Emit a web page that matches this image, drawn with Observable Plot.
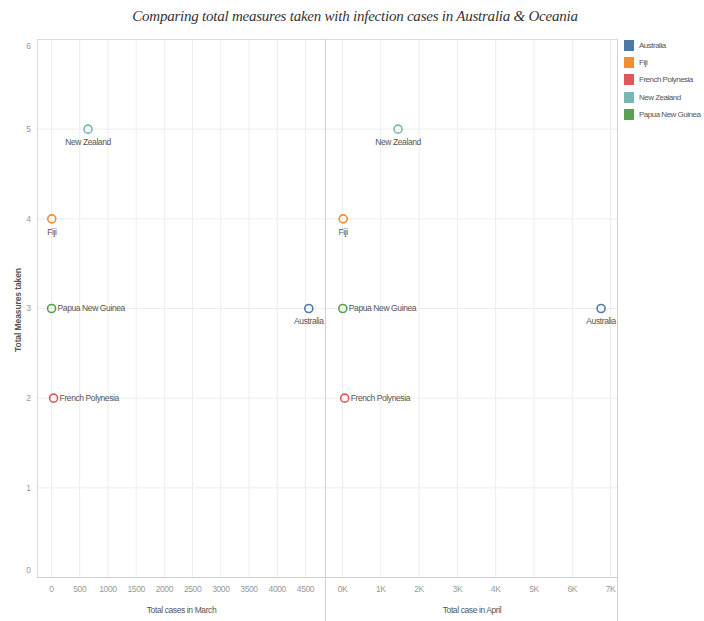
<!DOCTYPE html>
<html><head><meta charset="utf-8">
<script src="https://cdn.jsdelivr.net/npm/d3@7"></script>
<script src="https://cdn.jsdelivr.net/npm/@observablehq/plot@0.6"></script>
<style>
body{margin:0;background:#fff;}
#wrap{position:relative;width:704px;height:621px;overflow:hidden;font-family:"Liberation Sans",sans-serif;}
#title{position:absolute;top:8px;left:3px;width:704px;text-align:center;font-family:"Liberation Serif",serif;font-style:italic;font-size:15px;letter-spacing:-0.23px;color:#333;}
#left{position:absolute;left:0;top:29px;}
#right{position:absolute;left:326px;top:29px;}
#left svg text, #right svg text{letter-spacing:-0.4px;}
#ytitle{position:absolute;left:18px;top:310px;transform:translate(-50%,-50%) rotate(-90deg);white-space:nowrap;font-size:8.5px;font-weight:bold;color:#555;letter-spacing:-0.1px;}
#legend{position:absolute;left:624px;top:37px;font-size:8px;letter-spacing:-0.5px;color:#555;}
#legend .it{display:flex;align-items:center;height:17.2px;white-space:nowrap;}
#legend .sw{width:10px;height:11px;margin-right:5px;}
</style></head>
<body><div id="wrap">
<div id="title">Comparing total measures taken with infection cases in Australia &amp; Oceania</div>
<div id="left"></div><div id="right"></div><div id="legend"></div><div id="ytitle"></div>
</div>
<script>
const countries = ["Australia","Fiji","French Polynesia","New Zealand","Papua New Guinea"];
const colors = ["#4e79a7","#f28e2b","#e15759","#76b7b2","#59a14f"];
const measures = [3,4,2,5,3];
const casesMarch = [4559,5,37,647,1];
const casesApril = [6753,18,57,1450,8];
const marchTicks = [0,500,1000,1500,2000,2500,3000,3500,4000,4500];
const aprilTicks = [0,1000,2000,3000,4000,5000,6000,7000];
const measureTicks = [0,1,2,3,4,5,6];
const titleMarch = "Total cases in March";
const titleApril = "Total case in April";
const titleY = "Total Measures taken";

const rightLabeled = new Set(["French Polynesia","Papua New Guinea"]);
const rows = (cases) => countries.map((c,i)=>({country:c, cases:cases[i], measures:measures[i]}));
const font = "'Liberation Sans',sans-serif";
const txt = {fill:"#555", fontSize:8.5};
const tick = {fill:"#999", fontSize:8.5};

function panel(data, xDomain, ticks, fmt, xTitle, opts){
  const marks = [
    Plot.gridY(measureTicks, {stroke:"#ededed", strokeOpacity:1}),
    Plot.gridX(ticks, {stroke:"#ededed", strokeOpacity:1}),
    Plot.ruleY([6], {stroke:"#dadada"}),
    Plot.ruleY([0], {stroke:"#d0d0d0", x1:xDomain[0], x2:xDomain[1]}),
    Plot.ruleX([xDomain[1]], {stroke:"#d0d0d0", y1:-0.5, y2:6}),
    Plot.axisX(ticks, {tickSize:0, tickPadding:8, tickFormat:fmt, label:null, ...tick}),
    Plot.text([xTitle], {frameAnchor:"bottom", dy:35, ...txt}),
    Plot.dot(data, {x:"cases", y:"measures", stroke:"country", r:4, strokeWidth:1.6}),
    Plot.text(data.filter(d=>!rightLabeled.has(d.country)), {x:"cases", y:"measures", text:"country", dy:13, ...txt}),
    Plot.text(data.filter(d=>rightLabeled.has(d.country)), {x:"cases", y:"measures", text:"country", dx:6, textAnchor:"start", ...txt})
  ];
  if (opts.yAxis) {
    marks.push(Plot.ruleX([xDomain[0]], {stroke:"#dadada", y1:0, y2:6}));
    marks.push(Plot.axisY(measureTicks.filter(t=>t>0 && t<6), {tickSize:0, tickPadding:7, tickFormat:d=>String(d), label:null, ...tick}));
    marks.push(Plot.axisY([6], {tickSize:0, tickPadding:7, tickFormat:d=>String(d), label:null, dy:7, ...tick}));
    marks.push(Plot.axisY([0], {tickSize:0, tickPadding:7, tickFormat:d=>String(d), label:null, dy:-7, ...tick}));
  }
  return Plot.plot({
    width: opts.width, height: 592,
    marginLeft: opts.marginLeft, marginRight: 1, marginTop: 10, marginBottom: 44,
    style: {fontFamily: font, fontSize: "8.5px", overflow:"visible"},
    x: {domain: xDomain},
    y: {domain: [0,6], axis: opts.yAxis ? undefined : null},
    color: {domain: countries, range: colors},
    marks
  });
}

document.getElementById("left").appendChild(
  panel(rows(casesMarch), [-248, 4855], marchTicks, d=>String(d), titleMarch, {width:326, marginLeft:37, yAxis:true}));
document.getElementById("right").appendChild(
  panel(rows(casesApril), [-418, 7182], aprilTicks, d=>(d/1000)+"K", titleApril, {width:292, marginLeft:0, yAxis:false}));

document.getElementById("ytitle").textContent = titleY;
const lg = document.getElementById("legend");
countries.forEach((c,i)=>{
  const it = document.createElement("div"); it.className="it";
  const sw = document.createElement("div"); sw.className="sw"; sw.style.background=colors[i];
  const tx = document.createElement("span"); tx.textContent=c;
  it.appendChild(sw); it.appendChild(tx); lg.appendChild(it);
});
</script>
</body></html>
